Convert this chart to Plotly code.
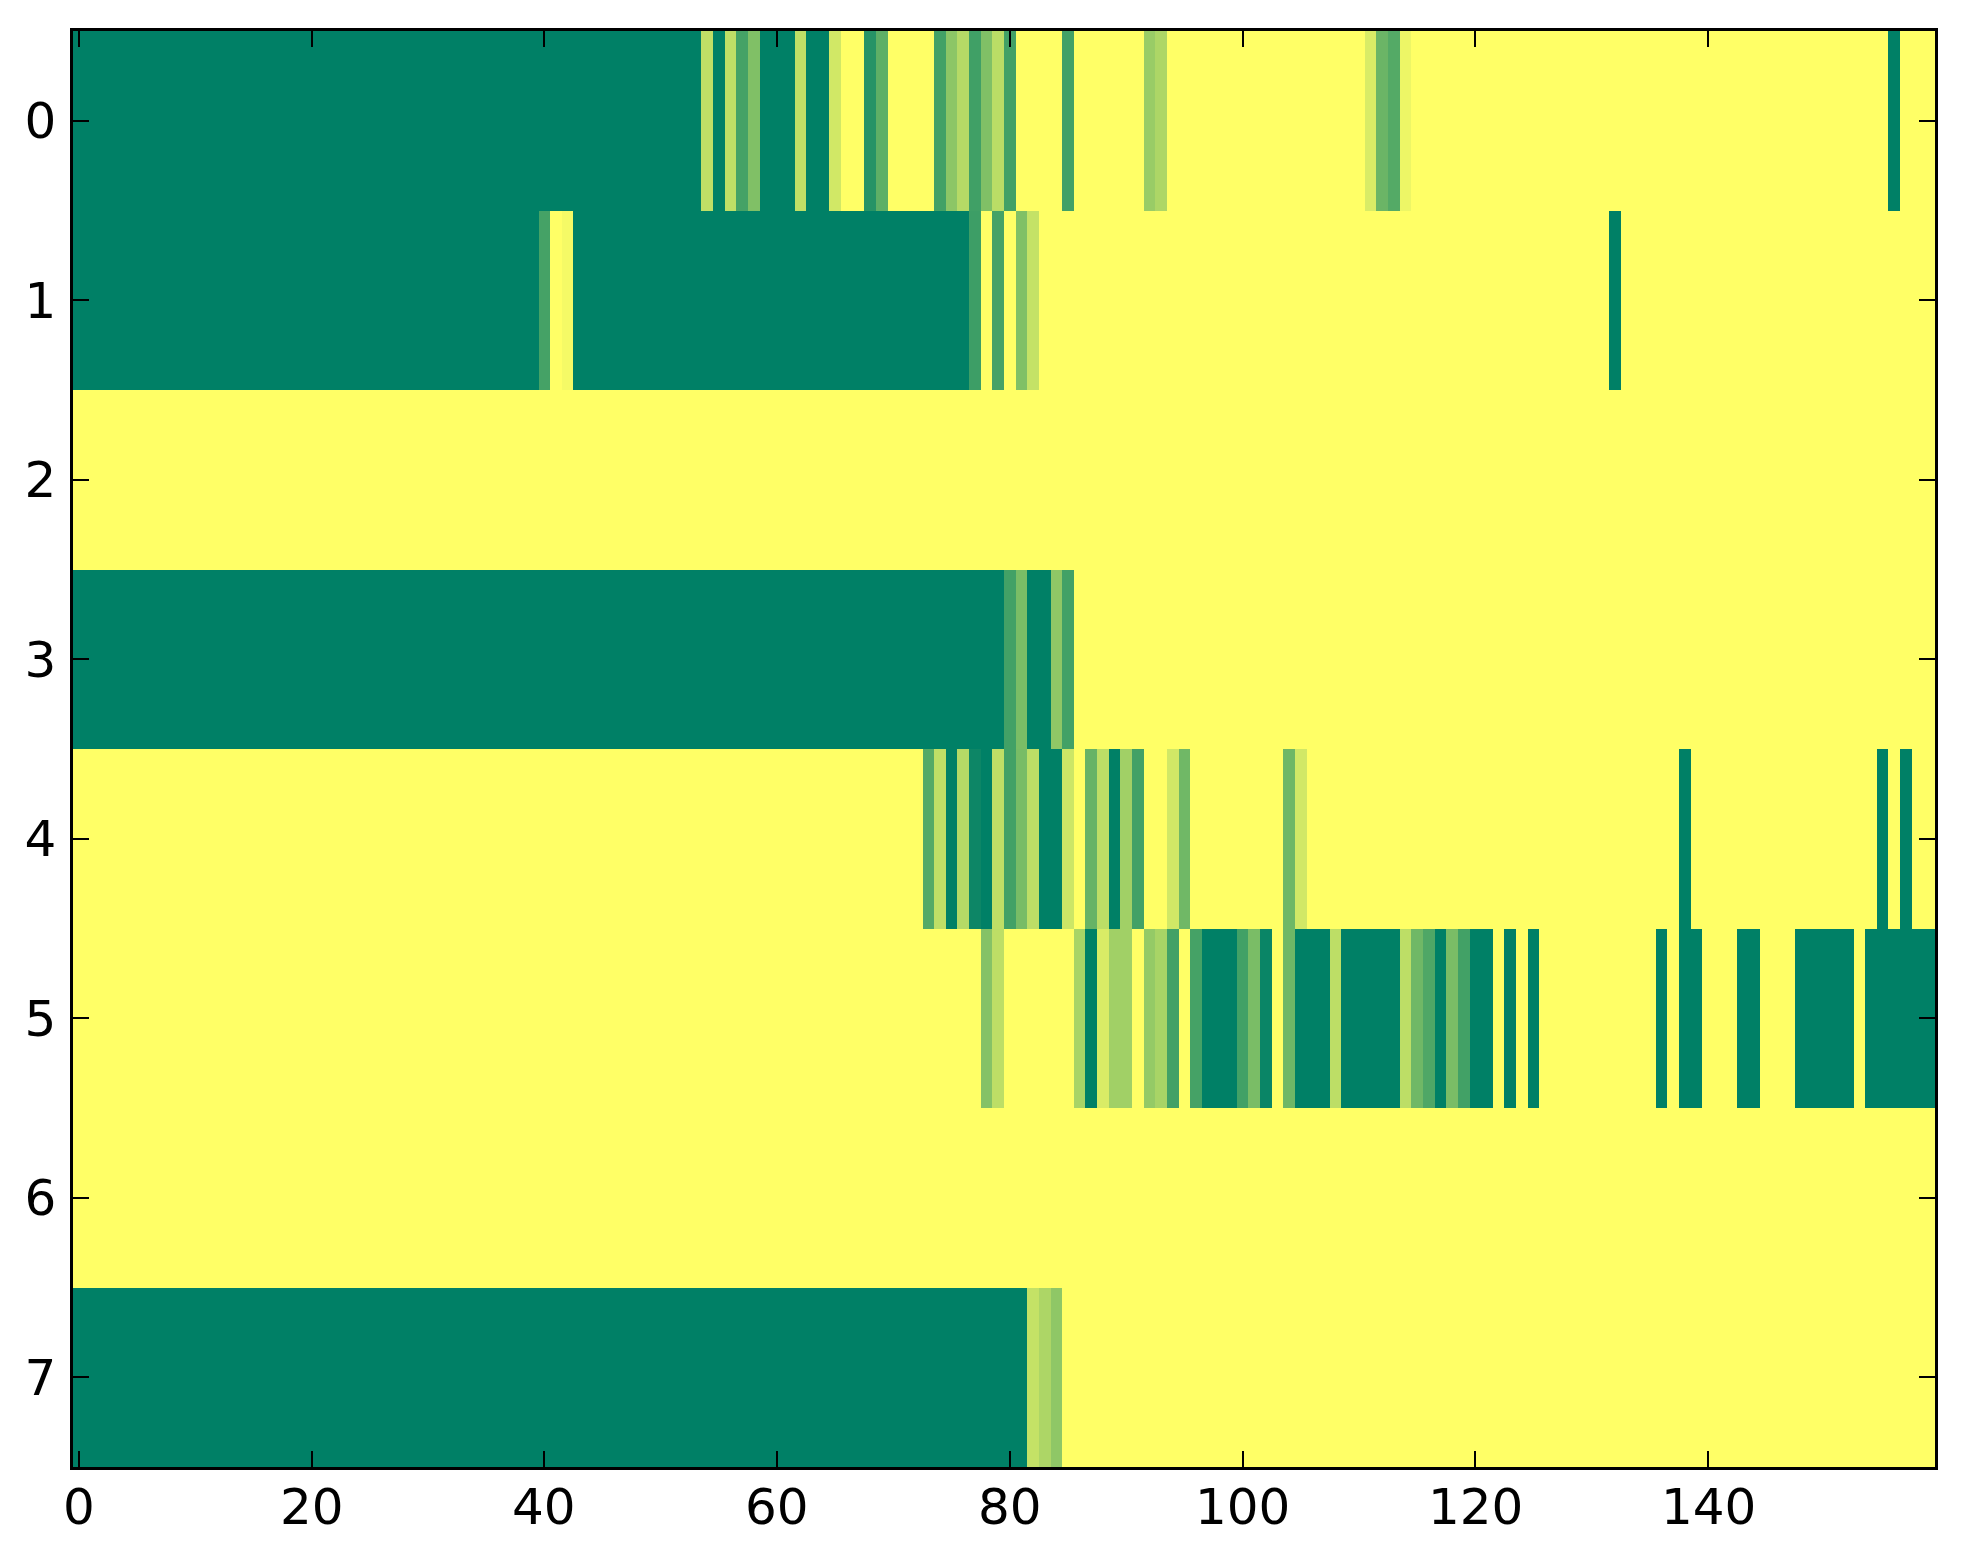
import plotly.graph_objects as go

# rows of the heatmap, 160 columns each, values 0 (green) .. 1 (yellow)
row0 = ([0] * 54 + [0.75, 0, 0.75, 0.27, 0.5, 0, 0, 0, 0.75, 0, 0, 0.82, 1, 1, 0.15, 0.37]
        + [1] * 4 + [0.26, 0.55, 0.71, 0.25, 0.5, 0.73, 0.26] + [1] * 4 + [0.26]
        + [1] * 6 + [0.6, 0.68] + [1] * 17 + [0.85, 0.42, 0.33, 0.93] + [1] * 41 + [0] + [1] * 3)
row1 = ([0] * 40 + [0.27, 1, 0.96] + [0] * 34 + [0.24, 1, 0.27, 1, 0.5, 0.77]
        + [1] * 49 + [0] + [1] * 27)
row2 = [1] * 160
row3 = [0] * 80 + [0.26, 0.48, 0, 0, 0.56, 0.26] + [1] * 74
row4 = ([1] * 73 + [0.33, 0.75, 0, 0.71, 0.05, 0, 0.75, 0.26, 0.47, 0.74, 0, 0, 0.8, 1,
                    0.4, 0.74, 0, 0.63, 0.26, 1, 1, 0.82, 0.44]
        + [1] * 8 + [0.43, 0.82] + [1] * 32 + [0] + [1] * 16 + [0, 1, 0] + [1] * 2)
row5 = ([1] * 78 + [0.52, 0.74] + [1] * 6
        + [0.66, 0, 0.85, 0.63, 0.63, 1, 0.58, 0.66, 0.26, 1, 0.27, 0, 0, 0, 0.26, 0.48, 0.04, 1, 0.43]
        + [0] * 3 + [0.74] + [0] * 5 + [0.74, 0.44, 0.31, 0, 0.48, 0.26] + [0] * 2
        + [1, 0, 1, 0] + [1] * 10 + [0, 1, 0, 0] + [1] * 3 + [0] * 2 + [1] * 3
        + [0] * 5 + [1] + [0] * 6)
row6 = [1] * 160
row7 = [0] * 82 + [0.77, 0.68, 0.56] + [1] * 75

z = [row0, row1, row2, row3, row4, row5, row6, row7]
x_ticks = [0, 20, 40, 60, 80, 100, 120, 140]
y_ticks = [0, 1, 2, 3, 4, 5, 6, 7]

# matplotlib "summer"
summer = [[0, 'rgb(0,128,102)'], [1, 'rgb(255,255,102)']]

fig = go.Figure(go.Heatmap(
    z=z,
    colorscale=summer,
    zmin=0, zmax=1,
    showscale=False,
))

tick_font = dict(family='DejaVu Sans', size=50, color='black')
axis_style = dict(
    showgrid=False, zeroline=False,
    showline=True, linecolor='black', linewidth=2.5, mirror='ticks',
    ticks='inside', ticklen=16, tickwidth=2, tickcolor='black',
    tickfont=tick_font,
)

# x tick labels as annotations so they can sit closer to the axis
for t in x_ticks:
    fig.add_annotation(x=t, y=0, xref='x', yref='paper', text=str(t),
                       showarrow=False, xanchor='center', yanchor='top',
                       yshift=-9, font=tick_font)

# page body adds 8px, margins compensate for it
fig.update_layout(
    width=1963, height=1564,
    margin=dict(l=65, r=36, t=23, b=105),
    paper_bgcolor='white', plot_bgcolor='white',
    xaxis=dict(range=[-0.5, 159.5], tickvals=x_ticks, showticklabels=False, **axis_style),
    yaxis=dict(range=[7.5, -0.5], tickvals=y_ticks, ticklabelstandoff=4, **axis_style),
)

fig.write_html("out.html")
